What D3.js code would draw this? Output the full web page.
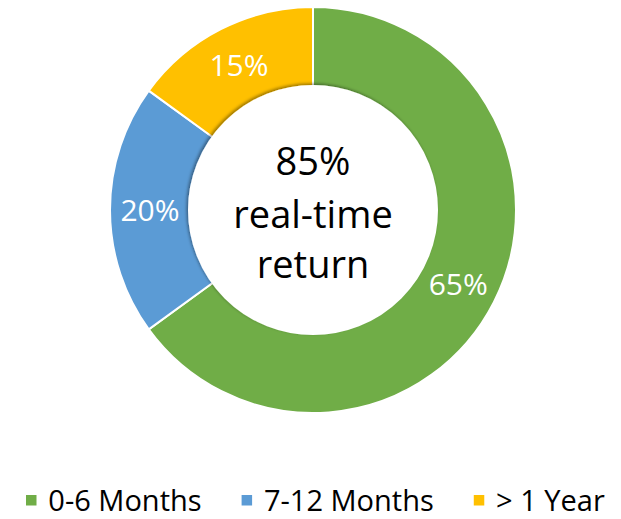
<!DOCTYPE html>
<html>
<head>
<meta charset="utf-8">
<script src="https://cdn.jsdelivr.net/npm/d3@7"></script>
<style>
  html, body { margin: 0; padding: 0; background: #fff; }
  svg { display: block; }
  text { font-family: "Open Sans", "Liberation Sans", sans-serif; }
</style>
</head>
<body>
<svg id="chart" width="621" height="519"></svg>
<script>
// ---- data ----
const categories = ["0-6 Months", "7-12 Months", "> 1 Year"];
const values = [65, 20, 15];
const valueLabels = ["65%", "20%", "15%"];
const centerLines = ["85%", "real-time", "return"];

// ---- styles ----
const colors = ["#70AD47", "#5B9BD5", "#FFC000"];

const svg = d3.select("#chart");
const cx = 313, cy = 210, rOuter = 203, rInner = 123;

const defs = svg.append("defs");
const f = defs.append("filter").attr("id", "sh").attr("x", "-20%").attr("y", "-20%").attr("width", "140%").attr("height", "140%");
f.append("feDropShadow").attr("dx", -1.5).attr("dy", -1.5).attr("stdDeviation", 1.8)
  .attr("flood-color", "#000").attr("flood-opacity", 0.4);

const g = svg.append("g").attr("transform", `translate(${cx},${cy})`);

const pie = d3.pie().sort(null).value(d => d.v);
const data = pie(values.map((v, i) => ({ v, i })));
const arc = d3.arc().innerRadius(rInner).outerRadius(rOuter);

g.selectAll("path.slice").data(data).enter().append("path")
  .attr("class", "slice")
  .attr("d", arc)
  .attr("fill", d => colors[d.data.i])
  .attr("stroke", "#fff")
  .attr("stroke-width", 2);

// inner disc with soft shadow
g.append("circle").attr("r", rInner + 1)
  .attr("fill", "#fff")
  .attr("stroke", "#fff").attr("stroke-width", 2)
  .attr("filter", "url(#sh)");

// slice labels
g.selectAll("text.lbl").data(data).enter().append("text")
  .attr("class", "lbl")
  .attr("transform", d => `translate(${arc.centroid(d)})`)
  .attr("text-anchor", "middle")
  .attr("dy", "0.36em")
  .attr("fill", "#fff")
  .attr("font-size", 30)
  .text(d => valueLabels[d.data.i]);

// center text
const baselines = [-35, 18, 68];
g.selectAll("text.ctr").data(centerLines).enter().append("text")
  .attr("class", "ctr")
  .attr("x", 0)
  .attr("y", (d, i) => baselines[i])
  .attr("text-anchor", "middle")
  .attr("font-size", 38)
  .attr("font-weight", 500)
  .attr("fill", "#000")
  .text(d => d);

// legend
const lg = svg.append("g");
let x = 26;
categories.forEach((c, i) => {
  lg.append("rect").attr("x", x).attr("y", 495).attr("width", 10.5).attr("height", 10.5).attr("fill", colors[i]);
  const t = lg.append("text").attr("x", x + 22.3).attr("y", 511)
    .attr("font-size", 29).attr("fill", "#000").text(c);
  x += 22.3 + t.node().getComputedTextLength() + 40;
});
</script>
</body>
</html>
